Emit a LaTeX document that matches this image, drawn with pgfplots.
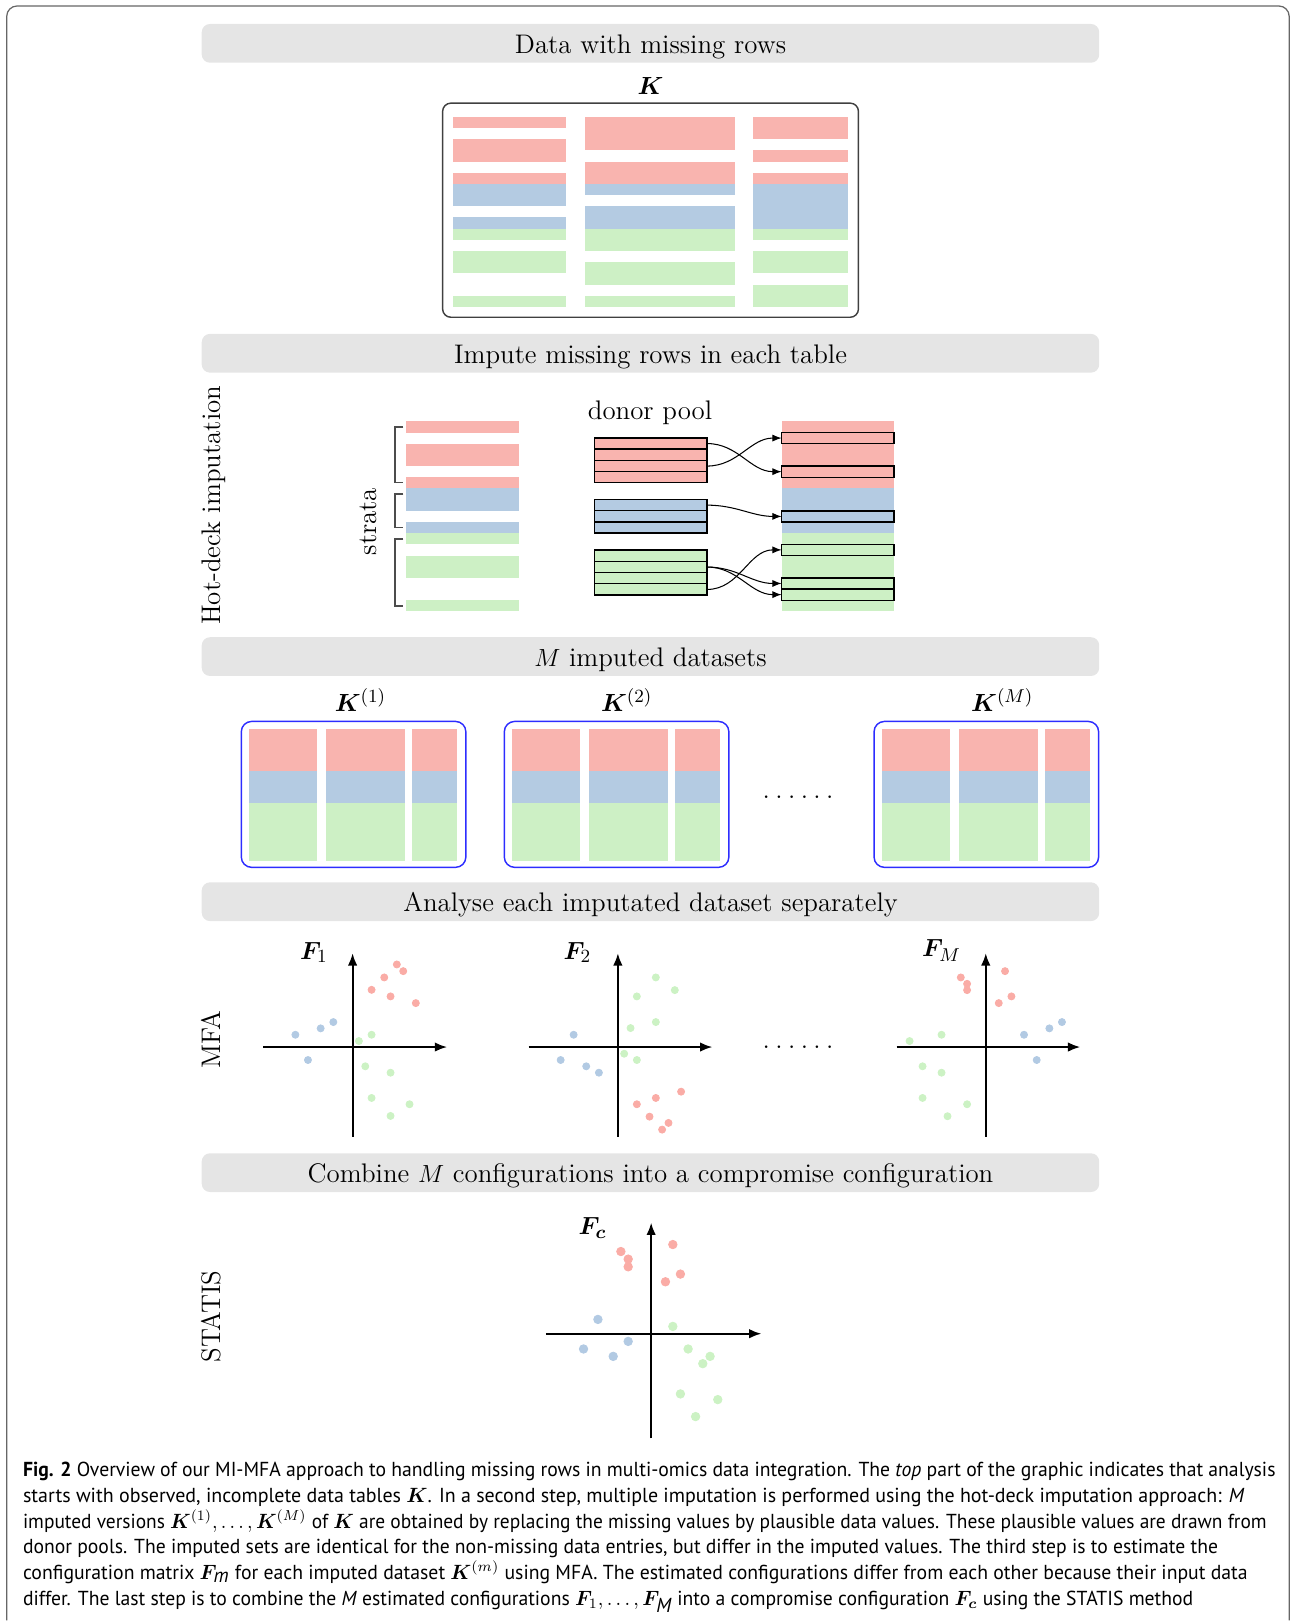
\documentclass[border=0pt]{standalone}
\usepackage{fontspec}
\usepackage{bm}
\usepackage{graphicx}
\usepackage{pgfplots}
\pgfplotsset{compat=1.18}
\usetikzlibrary{arrows.meta}
\newfontfamily\capfont{PT Sans}

\definecolor{cred}{RGB}{249,180,175}
\definecolor{cblue}{RGB}{180,203,226}
\definecolor{cgreen}{RGB}{205,240,197}
\definecolor{dred}{RGB}{250,172,166}
\definecolor{dblue}{RGB}{178,202,227}
\definecolor{dgreen}{RGB}{204,242,196}
\definecolor{bandgray}{RGB}{229,229,229}
\definecolor{boxblue}{RGB}{45,45,255}

\newcommand\lab{\fontsize{13.0}{15.6}\selectfont}
\newcommand\flab{\fontsize{12.5}{15}\selectfont}
\newcommand\capsize{\capfont\fontsize{9.8}{12}\selectfont}
\newcommand\sixdots{.\kern2.6pt.\kern2.6pt.\kern2.6pt.\kern2.6pt.\kern2.6pt.}

% filled block: colour, x1, x2, top y, first row, end row
\newcommand\blk[6]{\fill[#1] (#2,{#4+10.82*#5}) rectangle (#3,{#4+10.82*#6});}
% outlined row: x1, x2, top y, row
\newcommand\orow[4]{\draw[black, line width=0.7pt] (#1,{#3+10.82*#4}) rectangle (#2,{#3+10.82*(#4+1)});}
% grey section band: top y, text
\newcommand\band[2]{%
  \fill[bandgray, rounded corners=4pt] (195.2,#1) rectangle (1063.7,{#1+37.5});
  \node[font=\lab, anchor=base] at (629.5,{#1+28.4}) {#2};}
% imputed dataset box at left x
\newcommand\dset[1]{%
  \fill[cred]   ({#1+7.4},705.2) rectangle ({#1+73.2},745.8);
  \fill[cred]   ({#1+81.9},705.2) rectangle ({#1+158.3},745.8);
  \fill[cred]   ({#1+165.1},705.2) rectangle ({#1+208.6},745.8);
  \fill[cblue]  ({#1+7.4},745.8) rectangle ({#1+73.2},776.8);
  \fill[cblue]  ({#1+81.9},745.8) rectangle ({#1+158.3},776.8);
  \fill[cblue]  ({#1+165.1},745.8) rectangle ({#1+208.6},776.8);
  \fill[cgreen] ({#1+7.4},776.8) rectangle ({#1+73.2},832.9);
  \fill[cgreen] ({#1+81.9},776.8) rectangle ({#1+158.3},832.9);
  \fill[cgreen] ({#1+165.1},776.8) rectangle ({#1+208.6},832.9);
  \draw[boxblue, line width=0.7pt, rounded corners=5pt] (#1,698.1) rectangle ({#1+217.3},839.3);}

\pgfplotsset{
  cfg/.style={
    scale only axis, axis lines=middle, xtick=\empty, ytick=\empty,
    axis line style={line width=1pt, black, -{Latex[length=6pt,width=4.6pt]}},
    clip=false, anchor=origin,
  },
  dots/.style={only marks, mark=*, mark size=1.7pt, color=#1,
    mark options={draw=#1, fill=#1, line width=0.4pt}},
}

\begin{document}
\begin{tikzpicture}
\begin{axis}[name=bg, at={(0,0)}, anchor=south west, scale only axis,
  width=625pt, height=784pt, xmin=0, xmax=1250, ymin=0, ymax=1568,
  y dir=reverse, hide axis, clip=false]
\path (0,0) rectangle (1250,1568);
% outer frame
\draw[black!60, line width=0.6pt, rounded corners=5pt]
  (6.5,1568) -- (6.5,5.8) -- (1247.5,5.8) -- (1247.5,1568);

\band{23.2}{Data with missing rows}
\band{323.1}{Impute missing rows in each table}
\band{616.6}{$M$ imputed datasets}
\band{853.8}{Analyse each imputated dataset separately}
\band{1116}{Combine $M$ configurations into a compromise configuration}

% ---- data with missing rows
\node[font=\lab, anchor=base] at (629.5,91.8) {$\bm{K}$};
\blk{cred}{438.7}{547.8}{113}{0}{1}
\blk{cred}{438.7}{547.8}{113}{2}{4}
\blk{cred}{438.7}{547.8}{113}{5}{6}
\blk{cblue}{438.7}{547.8}{113}{6}{8}
\blk{cblue}{438.7}{547.8}{113}{9}{10}
\blk{cgreen}{438.7}{547.8}{113}{10}{11}
\blk{cgreen}{438.7}{547.8}{113}{12}{14}
\blk{cgreen}{438.7}{547.8}{113}{16}{17}
\blk{cred}{566.2}{711.2}{113}{0}{3}
\blk{cred}{566.2}{711.2}{113}{4}{6}
\blk{cblue}{566.2}{711.2}{113}{6}{7}
\blk{cblue}{566.2}{711.2}{113}{8}{10}
\blk{cgreen}{566.2}{711.2}{113}{10}{12}
\blk{cgreen}{566.2}{711.2}{113}{13}{15}
\blk{cgreen}{566.2}{711.2}{113}{16}{17}
\blk{cred}{728.7}{820.3}{113}{0}{2}
\blk{cred}{728.7}{820.3}{113}{3}{4}
\blk{cred}{728.7}{820.3}{113}{5}{6}
\blk{cblue}{728.7}{820.3}{113}{6}{10}
\blk{cgreen}{728.7}{820.3}{113}{10}{11}
\blk{cgreen}{728.7}{820.3}{113}{12}{14}
\blk{cgreen}{728.7}{820.3}{113}{15}{17}
\draw[black!75, line width=0.7pt, rounded corners=4pt] (428.3,99.8) rectangle (830.7,307);

% ---- hot-deck imputation
\node[font=\lab, anchor=base, rotate=90] at (213.5,489) {Hot-deck imputation};
\node[font=\lab, anchor=base, rotate=90] at (364.5,504.7) {strata};
\node[font=\lab, anchor=base] at (629,405.5) {donor pool};
% strata column
\blk{cred}{393}{502.2}{407.7}{0}{1}
\blk{cred}{393}{502.2}{407.7}{2}{4}
\blk{cred}{393}{502.2}{407.7}{5}{6}
\blk{cblue}{393}{502.2}{407.7}{6}{8}
\blk{cblue}{393}{502.2}{407.7}{9}{10}
\blk{cgreen}{393}{502.2}{407.7}{10}{11}
\blk{cgreen}{393}{502.2}{407.7}{12}{14}
\blk{cgreen}{393}{502.2}{407.7}{16}{17}
\draw[black!70, line width=0.8pt] (390.3,413.2) -- (382.4,413.2) -- (382.4,467) -- (390.3,467);
\draw[black!70, line width=0.8pt] (390.3,478.3) -- (382.4,478.3) -- (382.4,510.5) -- (390.3,510.5);
\draw[black!70, line width=0.8pt] (390.3,521.7) -- (382.4,521.7) -- (382.4,586.1) -- (390.3,586.1);
% donor pools
\blk{cred}{575.4}{684.1}{423.8}{0}{4}
\orow{575.4}{684.1}{423.8}{0}\orow{575.4}{684.1}{423.8}{1}
\orow{575.4}{684.1}{423.8}{2}\orow{575.4}{684.1}{423.8}{3}
\blk{cblue}{575.4}{684.1}{483.4}{0}{3}
\orow{575.4}{684.1}{483.4}{0}\orow{575.4}{684.1}{483.4}{1}
\orow{575.4}{684.1}{483.4}{2}
\blk{cgreen}{575.4}{684.1}{532.4}{0}{4}
\orow{575.4}{684.1}{532.4}{0}\orow{575.4}{684.1}{532.4}{1}
\orow{575.4}{684.1}{532.4}{2}\orow{575.4}{684.1}{532.4}{3}
% imputed column
\blk{cred}{756.3}{865}{407.7}{0}{6}
\blk{cblue}{756.3}{865}{407.7}{6}{10}
\blk{cgreen}{756.3}{865}{407.7}{10}{17}
\orow{756.3}{865}{407.7}{1}\orow{756.3}{865}{407.7}{4}
\orow{756.3}{865}{407.7}{8}\orow{756.3}{865}{407.7}{11}
\orow{756.3}{865}{407.7}{14}\orow{756.3}{865}{407.7}{15}
% draws from the donor pools
\draw[line width=0.5pt, -{Latex[length=4.5pt,width=3.5pt]}] (684.1,429.2) to[out=0,in=180] (756.3,456.4);
\draw[line width=0.5pt, -{Latex[length=4.5pt,width=3.5pt]}] (684.1,451.0) to[out=0,in=180] (756.3,423.9);
\draw[line width=0.5pt, -{Latex[length=4.5pt,width=3.5pt]}] (684.1,488.8) to[out=0,in=180] (756.3,499.7);
\draw[line width=0.5pt, -{Latex[length=4.5pt,width=3.5pt]}] (684.1,548.7) to[out=0,in=180] (756.3,564.6);
\draw[line width=0.5pt, -{Latex[length=4.5pt,width=3.5pt]}] (684.1,548.7) to[out=0,in=180] (756.3,575.4);
\draw[line width=0.5pt, -{Latex[length=4.5pt,width=3.5pt]}] (684.1,570.4) to[out=0,in=180] (756.3,532.1);

% ---- imputed datasets
\dset{233.5}
\dset{488}
\dset{845.8}
\node[font=\lab, anchor=base west, inner sep=0] at (323.7,688.4) {$\bm{K}^{(1)}$};
\node[font=\lab, anchor=base west, inner sep=0] at (581.3,688.4) {$\bm{K}^{(2)}$};
\node[font=\lab, anchor=base west, inner sep=0] at (939.4,688.4) {$\bm{K}^{(M)}$};
\node[font=\lab, anchor=base] at (772.3,773) {\sixdots};

% ---- MFA and STATIS
\node[font=\lab, anchor=base, rotate=90] at (213.5,1006) {MFA};
\node[font=\lab, anchor=base, rotate=90] at (213.5,1274) {STATIS};
\node[font=\lab, anchor=base] at (772.3,1015) {\sixdots};
\node[font=\flab, anchor=base west, inner sep=0] at (290,928.2) {$\bm{F}_1$};
\node[font=\flab, anchor=base west, inner sep=0] at (545,928.2) {$\bm{F}_2$};
\node[font=\flab, anchor=base west, inner sep=0] at (892,926) {$\bm{F}_M$};
\node[font=\flab, anchor=base west, inner sep=0] at (559.4,1194.7) {$\bm{F_c}$};
\coordinate (o1) at (341.2,1013.2);
\coordinate (o2) at (597.9,1013.2);
\coordinate (oM) at (953.9,1013.2);
\coordinate (oc) at (630.1,1290.6);

% ---- caption
\node[anchor=base west, inner sep=0] at (21.9,1429.1) {\resizebox{606pt}{\height}{\capsize
  \textbf{Fig. 2} Overview of our MI-MFA approach to handling missing rows in multi-omics data integration. The \textit{top} part of the graphic indicates that analysis}};
\node[anchor=base west, inner sep=0] at (21.9,1454.3) {\resizebox{590.9pt}{\height}{\capsize
  starts with observed, incomplete data tables $\bm{K}$. In a second step, multiple imputation is performed using the hot-deck imputation approach: \textit{M}}};
\node[anchor=base west, inner sep=0] at (21.9,1479.0) {\resizebox{601.7pt}{\height}{\capsize
  imputed versions $\bm{K}^{(1)},\ldots,\bm{K}^{(M)}$ of $\bm{K}$ are obtained by replacing the missing values by plausible data values. These plausible values are drawn from}};
\node[anchor=base west, inner sep=0] at (21.9,1503.6) {\resizebox{578.1pt}{\height}{\capsize
  donor pools. The imputed sets are identical for the non-missing data entries, but differ in the imputed values. The third step is to estimate the}};
\node[anchor=base west, inner sep=0] at (21.9,1528.4) {\resizebox{592.5pt}{\height}{\capsize
  configuration matrix $\bm{F}_{\textit{m}}$ for each imputed dataset $\bm{K}^{(m)}$ using MFA. The estimated configurations differ from each other because their input data}};
\node[anchor=base west, inner sep=0] at (21.9,1553.2) {\resizebox{566.2pt}{\height}{\capsize
  differ. The last step is to combine the \textit{M} estimated configurations $\bm{F}_1,\ldots,\bm{F}_{\textit{M}}$ into a compromise configuration $\bm{F_c}$ using the STATIS method}};
\end{axis}

% ---- configurations (scores in units of 10 px)
\begin{axis}[cfg, at={(o1)}, width=88.9pt, height=88.8pt,
  xmin=-8.93, xmax=9.47, ymin=-8.98, ymax=9.4]
\addplot[dots=dred] coordinates {(4.43,8.27) (5.07,7.60) (3.17,6.97) (1.90,5.73) (3.80,5.07) (6.33,4.40)};
\addplot[dots=dblue] coordinates {(-5.73,1.23) (-3.20,1.87) (-1.93,2.50) (-4.47,-1.30)};
\addplot[dots=dgreen] coordinates {(0.63,0.60) (1.90,1.23) (1.27,-1.93) (3.80,-2.57) (1.90,-5.10) (5.70,-5.73) (3.80,-6.90)};
\end{axis}

\begin{axis}[cfg, at={(o2)}, width=88.9pt, height=88.8pt,
  xmin=-8.93, xmax=9.47, ymin=-8.98, ymax=9.4]
\addplot[dots=dgreen] coordinates {(3.80,6.97) (5.70,5.70) (1.90,5.07) (3.80,2.50) (1.27,1.90) (0.63,-0.67) (1.90,-1.30)};
\addplot[dots=dblue] coordinates {(-4.43,1.23) (-5.73,-1.30) (-3.17,-1.93) (-1.90,-2.57)};
\addplot[dots=dred] coordinates {(1.90,-5.73) (3.80,-5.10) (6.33,-4.47) (3.17,-6.97) (5.07,-7.60) (4.43,-8.27)};
\end{axis}

\begin{axis}[cfg, at={(oM)}, width=88.9pt, height=88.8pt,
  xmin=-8.93, xmax=9.47, ymin=-8.98, ymax=9.4]
\addplot[dots=dred] coordinates {(1.93,7.60) (-2.50,6.97) (-1.87,6.33) (-1.87,5.70) (2.57,5.07) (1.30,4.40)};
\addplot[dots=dblue] coordinates {(3.83,1.23) (6.37,1.87) (7.63,2.50) (5.10,-1.30)};
\addplot[dots=dgreen] coordinates {(-7.63,0.60) (-4.43,1.23) (-6.33,-1.93) (-4.43,-2.57) (-6.33,-5.10) (-1.87,-5.73) (-3.83,-6.93)};
\end{axis}

\begin{axis}[cfg, at={(oc)}, width=104.3pt, height=104.4pt,
  xmin=-10.53, xmax=11.05, ymin=-10.48, ymax=11.13]
\addplot[dots=dred, mark size=2.05pt] coordinates {(2.17,8.93) (-3.03,8.23) (-2.30,7.47) (-2.30,6.70) (2.93,5.97) (1.43,5.20)};
\addplot[dots=dblue, mark size=2.05pt] coordinates {(-5.33,1.43) (-6.77,-1.53) (-3.80,-2.27) (-2.30,-0.77)};
\addplot[dots=dgreen, mark size=2.05pt] coordinates {(2.17,0.73) (3.70,-1.53) (5.90,-2.27) (5.17,-3.00) (2.93,-6.03) (6.67,-6.60) (4.45,-8.30)};
\end{axis}
\end{tikzpicture}
\end{document}
